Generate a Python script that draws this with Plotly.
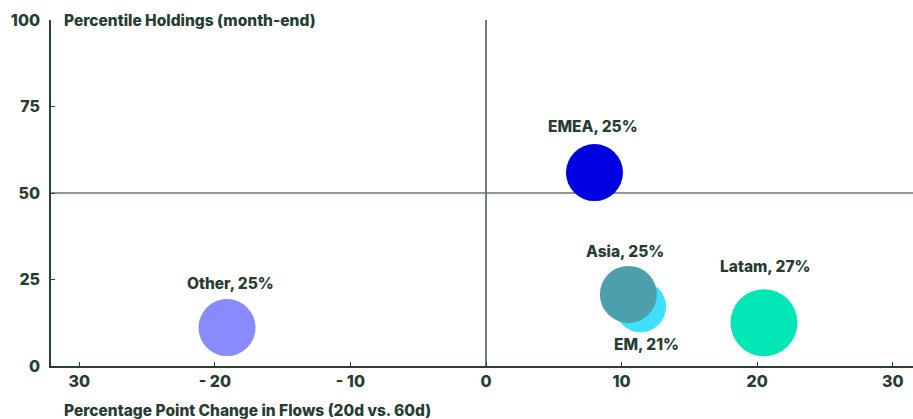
import plotly.graph_objects as go

# Regional positioning: flow momentum vs. holdings percentile
regions = ["Other", "EM", "Asia", "EMEA", "Latam"]
flow_change = [-19.1, 11.4, 10.5, 8.0, 20.5]      # pp change in flows (20d vs. 60d)
holdings_pctile = [11.1, 17.1, 20.7, 55.9, 12.5]  # percentile holdings (month-end)
share_pct = [25, 21, 25, 25, 27]                  # value shown in each label

x_tickvals = [-30, -20, -10, 0, 10, 20, 30]
x_ticktext = ["30", "- 20", "- 10", "0", "10", "20", "30"]
y_tickvals = [0, 25, 50, 75, 100]

# styling
colors = ["#8A8AFF", "#3FE0FF", "#4E9FAE", "#0000E1", "#00E6B4"]
bubble_px = [57, 51, 57, 57, 67]
label_shift = [(3, 44), (6, -38), (-3, 43), (-1, 46), (2, 56)]
TEXT = "#263D33"
AXIS = "#2B3F36"
FONT = "Inter"
W = 800

fig = go.Figure()
for name, x, y, c, d in zip(regions, flow_change, holdings_pctile, colors, bubble_px):
    fig.add_trace(go.Scatter(
        x=[x], y=[y], mode="markers", name=name,
        marker=dict(size=d, color=c, opacity=1, line=dict(width=0)),
        hoverinfo="skip", showlegend=False,
    ))

for name, x, y, s, (dx, dy) in zip(regions, flow_change, holdings_pctile, share_pct, label_shift):
    fig.add_annotation(
        x=x, y=y, xref="x", yref="y", text=f"{name}, {s}%", showarrow=False,
        xshift=dx, yshift=dy,
        font=dict(family=FONT, size=15.5, color=TEXT, weight=W),
    )

# quadrant dividers
fig.add_shape(type="line", xref="x", yref="paper", x0=0, x1=0, y0=0, y1=1,
              line=dict(color="#1F3A2E", width=1.3), layer="below")
fig.add_shape(type="line", xref="paper", yref="y", x0=0, x1=1, y0=50, y1=50,
              line=dict(color="#66776F", width=1.5), layer="below")

# axis titles placed at the top-left and bottom-left
fig.add_annotation(x=0, xref="paper", xshift=11, y=1, yref="paper", yanchor="middle",
                   xanchor="left", text="Percentile Holdings (month-end)", showarrow=False,
                   font=dict(family=FONT, size=15.5, color=TEXT, weight=W))
fig.add_annotation(x=0, xref="paper", xshift=11, y=0, yref="paper", yshift=-44,
                   yanchor="middle", xanchor="left",
                   text="Percentage Point Change in Flows (20d vs. 60d)", showarrow=False,
                   font=dict(family=FONT, size=15.5, color=TEXT, weight=W))

fig.update_xaxes(
    range=[-32.08, 31.49], tickvals=x_tickvals, ticktext=x_ticktext,
    showgrid=False, zeroline=False, showline=True, linecolor=AXIS, linewidth=1.5,
    ticks="inside", ticklen=4, tickcolor=AXIS, tickwidth=1,
    tickfont=dict(family=FONT, size=16, color=TEXT, weight=W),
)
fig.update_yaxes(
    range=[0, 100], tickvals=y_tickvals,
    showgrid=False, zeroline=False, showline=True, linecolor=AXIS, linewidth=1.5,
    ticks="inside", ticklen=4, tickcolor=AXIS, tickwidth=1, ticklabelstandoff=6,
    tickfont=dict(family=FONT, size=16, color=TEXT, weight=W),
)

fig.update_layout(
    width=913, height=419,
    margin=dict(l=51, r=0, t=20, b=53),
    paper_bgcolor="white", plot_bgcolor="white",
)

fig.write_html("out.html")
